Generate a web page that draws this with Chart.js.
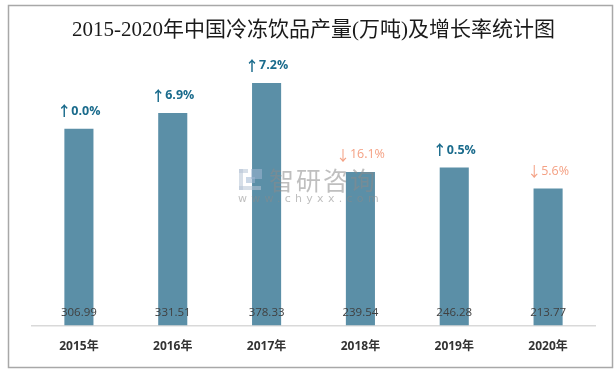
<!DOCTYPE html>
<html lang="zh">
<head>
  <meta charset="UTF-8" />
  <title>2015-2020年中国冷冻饮品产量(万吨)及增长率统计图</title>
  <script src="https://cdn.jsdelivr.net/npm/chart.js"></script>
  <style>
    body { margin: 0; background: #fff; }
    .wrap { width: 616px; height: 373px; }
  </style>
</head>
<body>
  <div class="wrap"><canvas id="chart" width="616" height="373"></canvas></div>

  <script>
    const years = ["2015年", "2016年", "2017年", "2018年", "2019年", "2020年"];
    const output = [306.99, 331.51, 378.33, 239.54, 246.28, 213.77];
    const growth = [0.0, 6.9, 7.2, -16.1, 0.5, -5.6];

    const barColor = "#5b8fa7";
    const upColor = "#1a6b8c";
    const downColor = "#f4a184";

    // frame + watermark + labels, drawn by hand on top of the bars
    const decor = {
      id: "decor",
      beforeDraw(chart) {
        const ctx = chart.ctx;
        ctx.save();
        ctx.strokeStyle = "#a8a8a8";
        ctx.lineWidth = 1.5;
        ctx.strokeRect(8.5, 5.5, 604, 362);
        ctx.restore();
      },
      afterDatasetsDraw(chart) {
        const ctx = chart.ctx;
        const bars = chart.getDatasetMeta(0).data;
        ctx.save();
        ctx.textBaseline = "middle";
        bars.forEach((bar, i) => {
          // value inside bar, near bottom
          ctx.textAlign = "center";
          ctx.fillStyle = "#404040";
          ctx.font = "11.5px 'Open Sans', 'Liberation Sans', sans-serif";
          ctx.fillText(output[i].toFixed(2), bar.x, bar.base - 13);
          // growth label above: arrow + percent
          const g = growth[i];
          const up = g >= 0;
          const txt = Math.abs(g).toFixed(1) + "%";
          const arrowFont = (up ? "bold " : "") + "14px 'Noto Sans CJK SC', sans-serif";
          const txtFont = (up ? "bold " : "") + "12.5px 'Open Sans', 'Liberation Sans', sans-serif";
          ctx.font = arrowFont;
          const aw = ctx.measureText(up ? "↑" : "↓").width;
          ctx.font = txtFont;
          const tw = ctx.measureText(txt).width;
          const x0 = bar.x - (aw + tw) / 2;
          const y = bar.y - 17.5;
          ctx.fillStyle = up ? upColor : downColor;
          ctx.textAlign = "left";
          ctx.font = arrowFont;
          ctx.fillText(up ? "↑" : "↓", x0, y);
          ctx.font = txtFont;
          ctx.fillText(txt, x0 + aw, y);
        });

        // watermark
        ctx.globalAlpha = 0.55;
        ctx.fillStyle = "#b7c4d6";
        ctx.fillRect(239, 169, 9, 4);
        ctx.fillRect(239, 169, 4, 21);
        ctx.fillRect(239, 186, 22, 4);
        ctx.fillStyle = "#9fb6d2";
        ctx.fillRect(251, 169, 11, 10);
        ctx.fillRect(246, 177, 9, 6);
        ctx.fillStyle = "#8a8a8a";
        ctx.textAlign = "left";
        ctx.font = "25px 'Noto Sans CJK SC', sans-serif";
        ctx.letterSpacing = "2px";
        ctx.fillText("智研咨询", 269, 180);
        ctx.font = "11px 'DejaVu Sans', sans-serif";
        ctx.letterSpacing = "4.3px";
        ctx.fillText("www.chyxx.com", 238, 199);
        ctx.restore();
      }
    };

    new Chart(document.getElementById("chart"), {
      type: "bar",
      data: {
        labels: years,
        datasets: [{
          label: "产量",
          data: output,
          backgroundColor: barColor,
          borderWidth: 0,
          barPercentage: 0.31,
          categoryPercentage: 1
        }]
      },
      options: {
        responsive: false,
        animation: false,
        layout: { padding: { top: 17.4, left: 32, right: 21, bottom: 5 } },
        plugins: {
          legend: { display: false },
          tooltip: { enabled: false },
          title: {
            display: true,
            text: "2015-2020年中国冷冻饮品产量(万吨)及增长率统计图",
            color: "#1a1a1a",
            font: { family: "'Liberation Serif', 'Noto Sans CJK SC', serif", size: 21, weight: "normal" },
            padding: { top: 0, bottom: 26.4 }
          }
        },
        scales: {
          x: {
            grid: { display: false, drawTicks: false },
            border: { display: true, color: "#d9d9d9", width: 1.5 },
            ticks: {
              color: "#333",
              padding: 14,
              font: { family: "'Open Sans', 'Noto Sans CJK SC', sans-serif", size: 12, weight: "bold" }
            }
          },
          y: {
            display: false,
            min: 0,
            max: 400
          }
        }
      },
      plugins: [decor]
    });
  </script>
</body>
</html>
